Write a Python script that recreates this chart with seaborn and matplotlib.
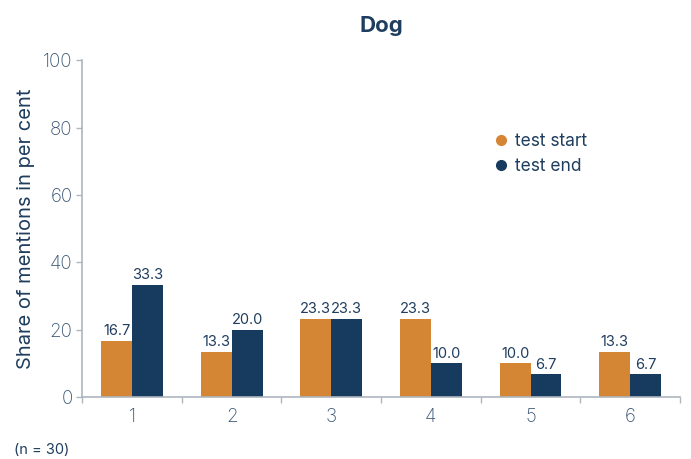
import matplotlib
matplotlib.use("Agg")
import matplotlib.pyplot as plt
import seaborn as sns
import pandas as pd
from matplotlib.lines import Line2D
from matplotlib.ticker import FixedLocator

categories = ["1", "2", "3", "4", "5", "6"]
test_start = [16.7, 13.3, 23.3, 23.3, 10.0, 13.3]
test_end = [33.3, 20.0, 23.3, 10.0, 6.7, 6.7]
series_names = ["test start", "test end"]
colors = ["#D58634", "#173B5E"]
text_col = "#3A5573"
spine_col = "#AEB5BD"

sns.set_theme(style="white")
plt.rcParams["font.family"] = ["Inter", "DejaVu Sans"]

df = pd.DataFrame({
    "cat": categories * 2,
    "val": test_start + test_end,
    "series": [series_names[0]] * 6 + [series_names[1]] * 6,
})

fig = plt.figure(figsize=(6.91, 4.59), dpi=100)
ax = fig.add_axes([0.119, 0.135, 0.865, 0.734])
sns.barplot(data=df, x="cat", y="val", hue="series", palette=colors,
            width=0.62, gap=0, ax=ax, saturation=1, legend=False, linewidth=0)

for cont in ax.containers:
    ax.bar_label(cont, labels=[f"{v:.1f}" for v in cont.datavalues],
                 padding=2, fontsize=10.5, color="#1F3D5E")

ax.set_ylim(0, 100)
ax.set_xlim(-0.5, 5.5)
ax.set_yticks([0, 20, 40, 60, 80, 100])
ax.tick_params(axis="y", labelsize=13.5, colors=text_col, length=4, width=1,
               left=True, color=spine_col, pad=3)
ax.tick_params(axis="x", which="major", labelsize=13.5, colors=text_col, length=0, pad=8)
ax.xaxis.set_minor_locator(FixedLocator([-0.5, 0.5, 1.5, 2.5, 3.5, 4.5, 5.5]))
ax.tick_params(axis="x", which="minor", bottom=True, length=4, color=spine_col, width=1)
for lbl in ax.get_yticklabels() + ax.get_xticklabels():
    lbl.set_color(text_col)
    lbl.set_fontweight("light")

for s in ["top", "right"]:
    ax.spines[s].set_visible(False)
for s in ["left", "bottom"]:
    ax.spines[s].set_color(spine_col)
    ax.spines[s].set_linewidth(1.2)

ax.set_xlabel("")
ax.set_ylabel("Share of mentions in per cent", fontsize=14.5, color="#1F3D5E", labelpad=6)
ax.set_title("Dog", fontsize=16, fontweight="bold", color="#1F3D5E", pad=20)

handles = [Line2D([0], [0], marker="o", linestyle="", markersize=7,
                  markerfacecolor=c, markeredgecolor=c) for c in colors]
leg = ax.legend(handles, series_names, loc="upper left", bbox_to_anchor=(0.66, 0.83),
                frameon=False, fontsize=12.5, handletextpad=0.3, labelspacing=0.45,
                handlelength=1.0)
for t in leg.get_texts():
    t.set_color("#1F3D5E")

fig.text(0.02, 0.01, "(n = 30)", fontsize=10.5, color="#1F3D5E")

fig.savefig("out.png", dpi=100)
